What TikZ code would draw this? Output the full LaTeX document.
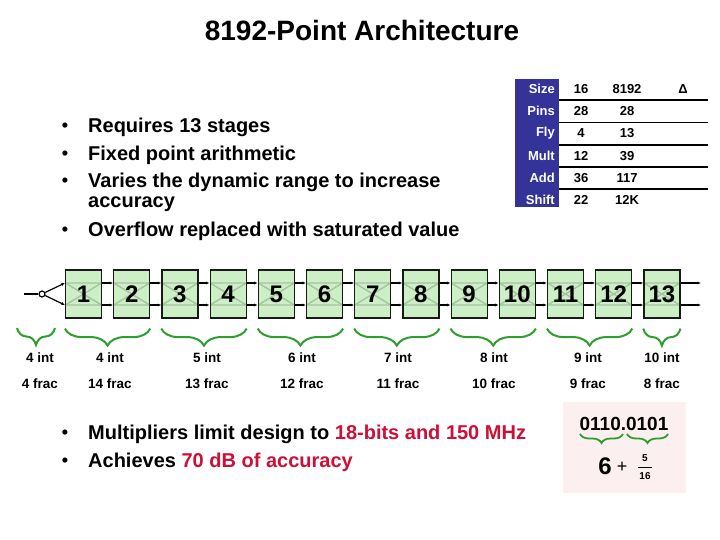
\documentclass[tikz,border=0pt]{standalone}
\usepackage{fontspec}
\setmainfont{Liberation Sans}
\usepackage{tikz}
\usetikzlibrary{arrows.meta,positioning,decorations.pathreplacing}
\definecolor{stagefill}{HTML}{CDEFC6}
\definecolor{stagerail}{HTML}{A6C2A0}
\definecolor{bracegreen}{HTML}{2E9E2E}
\definecolor{tablenavy}{HTML}{33339A}
\definecolor{hotred}{HTML}{CC1036}
\definecolor{notepink}{HTML}{FCEFEF}

\begin{document}
\begin{tikzpicture}[
    x=1pt, y=-1pt,
    node distance=6mm and 11pt,
    stagebox/.style={rectangle, draw=black!90, line width=1.2pt, fill=stagefill,
                minimum width=36pt, minimum height=48pt, inner sep=0pt,
                font=\fontsize{24}{24}\selectfont\bfseries,
                path picture={\draw[stagerail, line width=1.4pt]
                  ([yshift=11pt]path picture bounding box.west) -- ([yshift=11pt]path picture bounding box.east)
                  ([yshift=-11pt]path picture bounding box.west) -- ([yshift=-11pt]path picture bounding box.east)
                  ([yshift=11pt]path picture bounding box.west) -- ([yshift=-11pt]path picture bounding box.east)
                  ([yshift=-11pt]path picture bounding box.west) -- ([yshift=11pt]path picture bounding box.east);}},
    toprail/.style={yshift=11pt},
    botrail/.style={yshift=-11pt},
    link/.style={-{Latex[length=3.5pt, width=3pt]}, line width=1.2pt},
    brc/.style={decorate, decoration={brace, mirror, amplitude=17pt}, draw=bracegreen, line width=2pt},
    bitbrc/.style={decorate, decoration={brace, mirror, amplitude=9pt}, draw=bracegreen, line width=1.8pt},
    item/.style={anchor=west, inner sep=0pt, font=\fontsize{20}{22}\selectfont\bfseries},
    dot/.style={inner sep=0pt, font=\fontsize{18}{22}\selectfont\bfseries},
    bits/.style={inner sep=0pt, font=\fontsize{13.5}{14}\selectfont\bfseries},
    hdr/.style={anchor=east, inner sep=0pt, text=white, font=\fontsize{13}{14}\selectfont\bfseries},
    val/.style={inner sep=0pt, font=\fontsize{13}{14}\selectfont\bfseries},
    rule/.style={line width=1.4pt}
  ]
  \useasboundingbox (0,0) rectangle (720,540);
  \fill[white] (0,0) rectangle (720,540);

  \node[font=\fontsize{28}{30}\selectfont\bfseries] (title) at (362,30) {8192-Point Architecture};

  % bullet list, top
  \node[dot] (dot1) at (65,127) {•};
  \node[dot] (dot2) at (65,155) {•};
  \node[dot] (dot3) at (65,182) {•};
  \node[dot] (dot4) at (65,231) {•};
  \node[item] (stages) at (88,127) {Requires 13 stages};
  \node[item] (fixed) at (88,155) {Fixed point arithmetic};
  \node[item] (range) at (88,182) {Varies the dynamic range to increase};
  \node[item] (accuracy) at (88,204) {accuracy};
  \node[item] (overflow) at (88,231) {Overflow replaced with saturated value};

  % resource table
  \fill[tablenavy] (515,79) rectangle (559,207);
  \node[hdr] (size) at (555,89) {Size};   \node[val] (size-16) at (581,89) {16};  \node[val] (size-8192) at (627,89) {8192};
  \node[val] (delta) at (683,89) {Δ};
  \node[hdr] (pins) at (555,111) {Pins};  \node[val] (pins-16) at (581,111) {28}; \node[val] (pins-8192) at (627,111) {28};
  \node[hdr] (fly) at (555,133.5) {Fly};  \node[val] (fly-16) at (581,133.5) {4}; \node[val] (fly-8192) at (627,133.5) {13};
  \node[hdr] (mult) at (555,156) {Mult};  \node[val] (mult-16) at (581,156) {12}; \node[val] (mult-8192) at (627,156) {39};
  \node[hdr] (add) at (555,178) {Add};    \node[val] (add-16) at (581,178) {36};  \node[val] (add-8192) at (627,178) {117};
  \node[hdr] (shift) at (555,200) {Shift}; \node[val] (shift-16) at (581,200) {22}; \node[val] (shift-8192) at (627,200) {12K};
  \draw[rule] (559,100) -- (708,100);
  \draw[rule] (559,122.5) -- (708,122.5);
  \draw[rule] (559,145) -- (708,145);
  \draw[rule] (559,167) -- (708,167);
  \draw[rule] (559,189) -- (708,189);

  % pipeline stages
  \node[stagebox] (stage1) at (83.5,294) {1};
  \node[stagebox, right=of stage1] (stage2) {2};
  \node[stagebox, right=of stage2] (stage3) {3};
  \node[stagebox, right=of stage3] (stage4) {4};
  \node[stagebox, right=of stage4] (stage5) {5};
  \node[stagebox, right=of stage5] (stage6) {6};
  \node[stagebox, right=of stage6] (stage7) {7};
  \node[stagebox, right=of stage7] (stage8) {8};
  \node[stagebox, right=of stage8] (stage9) {9};
  \node[stagebox, right=of stage9] (stage10) {10};
  \node[stagebox, right=of stage10] (stage11) {11};
  \node[stagebox, right=of stage11] (stage12) {12};
  \node[stagebox, right=of stage12] (stage13) {13};

  \coordinate (feed) at (24,294);
  \node[circle, draw, fill=white, line width=1.2pt, minimum size=6pt, inner sep=0pt] (fork) at (42,294) {};
  \coordinate (outhi) at (701,283);
  \coordinate (outlo) at (701,305);

  \draw[line width=1.2pt] (feed) -- (fork);
  \draw[link] (fork) -- ([toprail]stage1.west);
  \draw[link] (fork) -- ([botrail]stage1.west);
  \draw[link] ([toprail]stage1.east) -- ([toprail]stage2.west);   \draw[link] ([botrail]stage1.east) -- ([botrail]stage2.west);
  \draw[link] ([toprail]stage2.east) -- ([toprail]stage3.west);   \draw[link] ([botrail]stage2.east) -- ([botrail]stage3.west);
  \draw[link] ([toprail]stage3.east) -- ([toprail]stage4.west);   \draw[link] ([botrail]stage3.east) -- ([botrail]stage4.west);
  \draw[link] ([toprail]stage4.east) -- ([toprail]stage5.west);   \draw[link] ([botrail]stage4.east) -- ([botrail]stage5.west);
  \draw[link] ([toprail]stage5.east) -- ([toprail]stage6.west);   \draw[link] ([botrail]stage5.east) -- ([botrail]stage6.west);
  \draw[link] ([toprail]stage6.east) -- ([toprail]stage7.west);   \draw[link] ([botrail]stage6.east) -- ([botrail]stage7.west);
  \draw[link] ([toprail]stage7.east) -- ([toprail]stage8.west);   \draw[link] ([botrail]stage7.east) -- ([botrail]stage8.west);
  \draw[link] ([toprail]stage8.east) -- ([toprail]stage9.west);   \draw[link] ([botrail]stage8.east) -- ([botrail]stage9.west);
  \draw[link] ([toprail]stage9.east) -- ([toprail]stage10.west);  \draw[link] ([botrail]stage9.east) -- ([botrail]stage10.west);
  \draw[link] ([toprail]stage10.east) -- ([toprail]stage11.west); \draw[link] ([botrail]stage10.east) -- ([botrail]stage11.west);
  \draw[link] ([toprail]stage11.east) -- ([toprail]stage12.west); \draw[link] ([botrail]stage11.east) -- ([botrail]stage12.west);
  \draw[link] ([toprail]stage12.east) -- ([toprail]stage13.west); \draw[link] ([botrail]stage12.east) -- ([botrail]stage13.west);
  \draw[link] ([toprail]stage13.east) -- (outhi);
  \draw[link] ([botrail]stage13.east) -- (outlo);

  % word widths per stage group
  \draw[brc] (17,328) -- (55,328);
  \draw[brc] ([yshift=-10pt]stage1.south west) -- ([yshift=-10pt]stage2.south east);
  \draw[brc] ([yshift=-10pt]stage3.south west) -- ([yshift=-10pt]stage4.south east);
  \draw[brc] ([yshift=-10pt]stage5.south west) -- ([yshift=-10pt]stage6.south east);
  \draw[brc] ([yshift=-10pt]stage7.south west) -- ([yshift=-10pt]stage8.south east);
  \draw[brc] ([yshift=-10pt]stage9.south west) -- ([yshift=-10pt]stage10.south east);
  \draw[brc] ([yshift=-10pt]stage11.south west) -- ([yshift=-10pt]stage12.south east);
  \draw[brc] ([yshift=-10pt]stage13.south west) -- ([yshift=-10pt]stage13.south east);

  \node[bits] (int0) at (40,358) {4 int};    \node[bits] (frac0) at (40,384) {4 frac};
  \node[bits] (int12) at (110,358) {4 int};  \node[bits] (frac12) at (110,384) {14 frac};
  \node[bits] (int34) at (207,358) {5 int};  \node[bits] (frac34) at (207,384) {13 frac};
  \node[bits] (int56) at (302,358) {6 int};  \node[bits] (frac56) at (302,384) {12 frac};
  \node[bits] (int78) at (398,358) {7 int};  \node[bits] (frac78) at (398,384) {11 frac};
  \node[bits] (int910) at (494,358) {8 int}; \node[bits] (frac910) at (494,384) {10 frac};
  \node[bits] (int1112) at (588,358) {9 int}; \node[bits] (frac1112) at (588,384) {9 frac};
  \node[bits] (int13) at (662,358) {10 int}; \node[bits] (frac13) at (662,384) {8 frac};

  % bullet list, bottom
  \node[dot] (dot5) at (65,434) {•};
  \node[dot] (dot6) at (65,462) {•};
  \node[item] (multipliers) at (88,434) {Multipliers limit design to \textcolor{hotred}{18-bits and 150 MHz}};
  \node[item] (achieves) at (88,462) {Achieves \textcolor{hotred}{70 dB of accuracy}};

  % fixed point example
  \node[fill=notepink, draw=red!6, minimum width=122pt, minimum height=90pt] (note) at (624,447) {};
  \node[inner sep=0pt, font=\fontsize{19}{20}\selectfont\bfseries] (word) at (624,424) {0110.0101};
  \draw[bitbrc] (580,434) -- (623,434);
  \draw[bitbrc] (627,434) -- (668,434);
  \node[inner sep=0pt, font=\fontsize{24}{24}\selectfont\bfseries] (six) at (605,466) {6};
  \node[inner sep=0pt, font=\fontsize{18}{18}\selectfont] (plus) at (622,467) {+};
  \node[inner sep=0pt, font=\fontsize{10}{10}\selectfont\bfseries] (num) at (645,458) {5};
  \node[inner sep=0pt, font=\fontsize{10}{10}\selectfont\bfseries] (den) at (645,476) {16};
  \draw[line width=0.6pt] (638,467) -- (652,467);
\end{tikzpicture}
\end{document}
